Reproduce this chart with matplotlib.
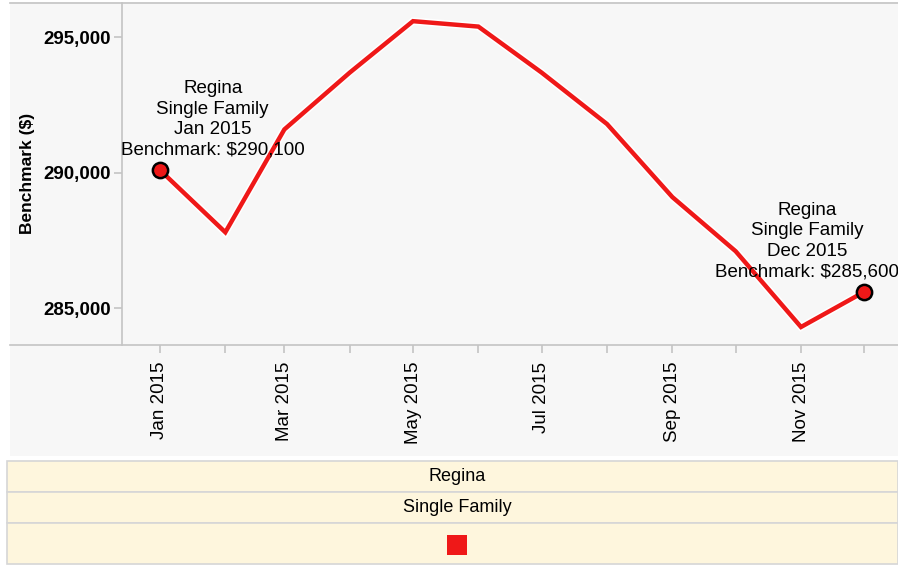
import datetime as dt
import matplotlib
matplotlib.use("Agg")
import matplotlib.pyplot as plt
import matplotlib.dates as mdates
import matplotlib.patheffects as pe
from matplotlib.patches import Rectangle
from matplotlib.lines import Line2D

plt.rcParams['font.family'] = ['Liberation Sans', 'DejaVu Sans']

# data
months = [dt.date(2015, m, 1) for m in range(1, 13)]
benchmark = [290100, 287800, 291600, 293700, 295600, 295400,
             293700, 291800, 289100, 287100, 284300, 285600]
region = "Regina"
prop_type = "Single Family"

W, H = 898, 565
fig = plt.figure(figsize=(W / 100, H / 100), dpi=100)
fig.patch.set_facecolor('white')

# grey panel behind the chart
fig.patches.append(Rectangle((10 / W, 1 - 456 / H), (W - 10) / W, 454 / H,
                             transform=fig.transFigure, facecolor='#f7f7f7',
                             edgecolor='none', zorder=-5))
fig.lines.append(Line2D([10 / W, 1], [1 - 2.5 / H] * 2, transform=fig.transFigure,
                        color='#c4c4c4', lw=1.2, zorder=-4))
fig.lines.append(Line2D([10 / W, 1], [1 - 345 / H] * 2, transform=fig.transFigure,
                        color='#c4c4c4', lw=1.2, zorder=-4))

ax = fig.add_axes([122 / W, 1 - 345 / H, (W - 122) / W, (345 - 2.5) / H])
ax.set_facecolor('none')
for s in ['top', 'right', 'bottom']:
    ax.spines[s].set_visible(False)
ax.spines['left'].set_color('#c4c4c4')
ax.spines['left'].set_linewidth(1.2)

red = '#ef1818'
ax.plot(months, benchmark, color=red, lw=3.2, solid_joinstyle='miter',
        path_effects=[pe.Stroke(linewidth=5.5, foreground='white'), pe.Normal()],
        zorder=3)
ax.plot([months[0], months[-1]], [benchmark[0], benchmark[-1]], 'o', ms=11,
        mfc=red, mec='black', mew=1.8, zorder=4)

ax.set_xlim(months[0] - dt.timedelta(days=18), months[-1] + dt.timedelta(days=16.6))
ax.set_ylim(283635, 296290)

ax.xaxis.set_major_locator(mdates.MonthLocator(bymonth=[1, 3, 5, 7, 9, 11]))
ax.xaxis.set_minor_locator(mdates.MonthLocator())
ax.xaxis.set_major_formatter(mdates.DateFormatter('%b %Y'))
ax.tick_params(axis='x', which='both', length=6, color='#c4c4c4', width=1.2,
               labelsize=13.5, labelrotation=90, pad=6)
ax.set_yticks([285000, 290000, 295000])
ax.set_yticklabels(['285,000', '290,000', '295,000'], fontweight='bold')
ax.tick_params(axis='y', length=6, color='#c4c4c4', width=1.2, labelsize=13.5, pad=2)
ax.set_ylabel('Benchmark ($)', fontsize=12.5, fontweight='bold', labelpad=6)

def label(i, dx):
    txt = "%s\n%s\n%s\nBenchmark: $%s" % (region, prop_type,
                                         months[i].strftime('%b %Y'),
                                         format(benchmark[i], ','))
    ax.annotate(txt, (months[i], benchmark[i]), xytext=(dx, 8),
                textcoords='offset points', ha='center', va='bottom',
                fontsize=13.5, linespacing=1.28, zorder=5, annotation_clip=False)

label(0, 38)
label(11, -41)

# legend panel
rows = [(461, 492), (492, 523), (523, 564)]
for top, bot in rows:
    fig.patches.append(Rectangle((7 / W, 1 - bot / H), (W - 7) / W, (bot - top) / H,
                                 transform=fig.transFigure, facecolor='#fef6dd',
                                 edgecolor='#d6d6d6', lw=1.2, zorder=1))
cx = 457 / W
fig.text(cx, 1 - 476.5 / H, region, ha='center', va='center', fontsize=13)
fig.text(cx, 1 - 507.5 / H, prop_type, ha='center', va='center', fontsize=13)
fig.patches.append(Rectangle((447 / W, 1 - 555 / H), 20 / W, 20 / H,
                             transform=fig.transFigure, facecolor=red,
                             edgecolor='none', zorder=2))

fig.savefig('out.png', dpi=100)
